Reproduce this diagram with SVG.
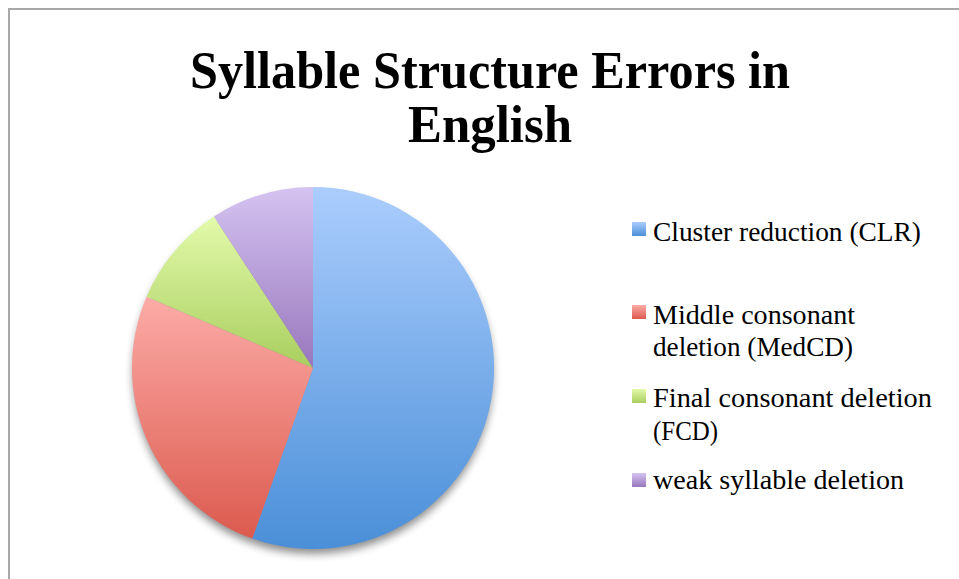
<svg xmlns="http://www.w3.org/2000/svg" width="959" height="579" viewBox="0 0 959 579">
  <style>
    .title { font-family: "Liberation Serif", "DejaVu Serif", serif; font-weight: bold; font-size: 53px; fill: #000; text-anchor: middle; }
    .legend-text { font-family: "Liberation Serif", "DejaVu Serif", serif; font-size: 28px; fill: #000; }
  </style>
  <defs>
    <linearGradient id="gBlue" x1="0" y1="0" x2="0" y2="1">
      <stop offset="0" stop-color="#abcdfd"/>
      <stop offset="1" stop-color="#4a8fd8"/>
    </linearGradient>
    <linearGradient id="gRed" x1="0" y1="0" x2="0" y2="1">
      <stop offset="0" stop-color="#fcaba7"/>
      <stop offset="1" stop-color="#dc5a4e"/>
    </linearGradient>
    <linearGradient id="gGreen" x1="0" y1="0" x2="0" y2="1">
      <stop offset="0" stop-color="#e3faab"/>
      <stop offset="1" stop-color="#a9ce5e"/>
    </linearGradient>
    <linearGradient id="gPurple" x1="0" y1="0" x2="0" y2="1">
      <stop offset="0" stop-color="#d5c3f1"/>
      <stop offset="1" stop-color="#9877bd"/>
    </linearGradient>
    <filter id="pieShadow" x="-20%" y="-20%" width="140%" height="140%">
      <feGaussianBlur stdDeviation="4"/>
    </filter>
  </defs>

  <!-- chart frame -->
  <rect x="0" y="0" width="959" height="579" fill="#ffffff"/>
  <path d="M9,579 V9 H959" fill="none" stroke="#a8a8a8" stroke-width="2"/>

  <!-- title -->
  <g id="title">
    <text class="title" x="490" y="88" textLength="600" lengthAdjust="spacingAndGlyphs">Syllable Structure Errors in</text>
    <text class="title" x="490" y="142" textLength="164" lengthAdjust="spacingAndGlyphs">English</text>
  </g>

  <!-- pie: soft drop shadow, then the four slices clockwise from 12 o'clock -->
  <g id="pie">
    <circle cx="313" cy="374" r="180" fill="#000" opacity="0.45" filter="url(#pieShadow)"/>
    <g id="slice-clr">
      <path d="M313,368 L313,187 A181,181 0 1 1 252.3,538.5 Z" fill="url(#gBlue)"/>
    </g>
    <g id="slice-medcd">
      <path d="M313,368 L252.3,538.5 A181,181 0 0 1 146.6,296.7 Z" fill="url(#gRed)"/>
    </g>
    <g id="slice-fcd">
      <path d="M313,368 L146.6,296.7 A181,181 0 0 1 213.9,216.5 Z" fill="url(#gGreen)"/>
    </g>
    <g id="slice-wsd">
      <path d="M313,368 L213.9,216.5 A181,181 0 0 1 313,187 Z" fill="url(#gPurple)"/>
    </g>
  </g>

  <!-- legend -->
  <g id="legend">
    <g id="legend-clr">
      <rect x="632" y="222" width="14" height="14" fill="url(#gBlue)"/>
      <text class="legend-text" x="653" y="241" textLength="268" lengthAdjust="spacingAndGlyphs">Cluster reduction (CLR)</text>
    </g>
    <g id="legend-medcd">
      <rect x="632" y="305" width="14" height="14" fill="url(#gRed)"/>
      <text class="legend-text" x="653" y="324" textLength="202" lengthAdjust="spacingAndGlyphs">Middle consonant</text>
      <text class="legend-text" x="653" y="356" textLength="200" lengthAdjust="spacingAndGlyphs">deletion (MedCD)</text>
    </g>
    <g id="legend-fcd">
      <rect x="632" y="389" width="14" height="14" fill="url(#gGreen)"/>
      <text class="legend-text" x="653" y="407" textLength="279" lengthAdjust="spacingAndGlyphs">Final consonant deletion</text>
      <text class="legend-text" x="653" y="440" textLength="65" lengthAdjust="spacingAndGlyphs">(FCD)</text>
    </g>
    <g id="legend-wsd">
      <rect x="632" y="473" width="14" height="14" fill="url(#gPurple)"/>
      <text class="legend-text" x="653" y="489" textLength="251" lengthAdjust="spacingAndGlyphs">weak syllable deletion</text>
    </g>
  </g>
</svg>
